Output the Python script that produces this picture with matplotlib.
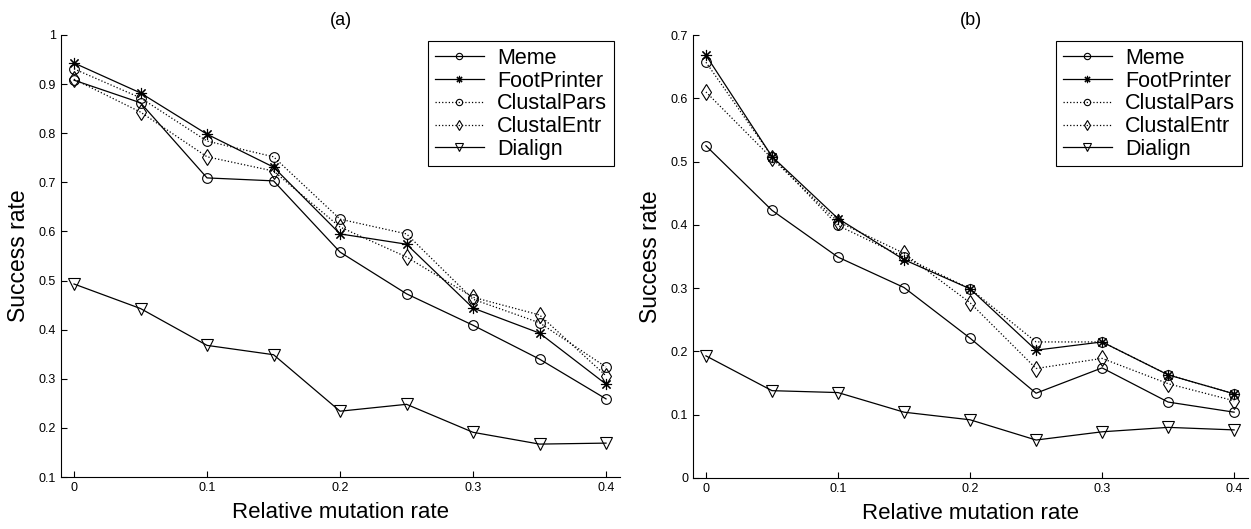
import matplotlib.pyplot as plt
import numpy as np

plt.rcParams['font.family'] = ['Liberation Sans', 'DejaVu Sans']

rate = [0, 0.05, 0.1, 0.15, 0.2, 0.25, 0.3, 0.35, 0.4]
names = ['Meme', 'FootPrinter', 'ClustalPars', 'ClustalEntr', 'Dialign']

# panel (a)
meme_a = [0.908, 0.862, 0.709, 0.703, 0.558, 0.473, 0.409, 0.340, 0.259]
foot_a = [0.943, 0.882, 0.798, 0.731, 0.595, 0.574, 0.444, 0.393, 0.289]
pars_a = [0.931, 0.872, 0.784, 0.752, 0.625, 0.595, 0.462, 0.414, 0.324]
entr_a = [0.910, 0.843, 0.752, 0.723, 0.609, 0.548, 0.466, 0.430, 0.306]
dial_a = [0.493, 0.443, 0.368, 0.349, 0.234, 0.248, 0.191, 0.167, 0.169]

# panel (b)
meme_b = [0.525, 0.423, 0.349, 0.301, 0.221, 0.134, 0.174, 0.120, 0.104]
foot_b = [0.668, 0.508, 0.410, 0.345, 0.299, 0.202, 0.215, 0.163, 0.133]
pars_b = [0.657, 0.508, 0.399, 0.349, 0.299, 0.215, 0.215, 0.163, 0.133]
entr_b = [0.610, 0.505, 0.405, 0.355, 0.277, 0.173, 0.189, 0.149, 0.122]
dial_b = [0.193, 0.138, 0.135, 0.104, 0.092, 0.060, 0.073, 0.080, 0.076]

styles = [
    dict(ls='-', marker='o', ms=7),
    dict(ls='-', marker=(8, 2, 0), ms=8),
    dict(ls=':', marker='o', ms=7),
    dict(ls=':', marker='d', ms=8),
    dict(ls='-', marker='v', ms=8),
]

fig = plt.figure(figsize=(12.51, 5.29), dpi=100)
ax1 = fig.add_axes([61 / 1251, 1 - 477 / 529, 559 / 1251, 442 / 529])
ax2 = fig.add_axes([693 / 1251, 1 - 478 / 529, 555 / 1251, 443 / 529])


def draw(ax, series, ylim, yticks, title):
    for name, y, st in zip(names, series, styles):
        ax.plot(rate, y, color='black', lw=0.9, ls=st['ls'], marker=st['marker'],
                ms=st['ms'], mfc='none', mec='black', mew=0.8, label=name)
    ax.set_xlim(-0.0098, 0.4105)
    ax.set_ylim(*ylim)
    ax.set_xticks([0, 0.1, 0.2, 0.3, 0.4])
    ax.set_xticklabels(['0', '0.1', '0.2', '0.3', '0.4'])
    ax.set_yticks(yticks)
    ax.set_yticklabels(['%g' % t for t in yticks])
    ax.tick_params(direction='in', labelsize=9, length=4, width=0.8)
    for s in ['top', 'right']:
        ax.spines[s].set_visible(False)
    ax.set_xlabel('Relative mutation rate', fontsize=16, labelpad=6)
    ax.set_ylabel('Success rate', fontsize=16.5, labelpad=6)
    ax.set_title(title, fontsize=13, pad=7)
    leg = ax.legend(loc='upper right', fontsize=15.5, handlelength=2.3,
                    handletextpad=0.6, borderaxespad=0.3, fancybox=False,
                    edgecolor='black', framealpha=1, labelspacing=0.08,
                    markerscale=0.65, borderpad=0.3)
    leg.get_frame().set_linewidth(0.8)


draw(ax1, [meme_a, foot_a, pars_a, entr_a, dial_a], (0.1, 1.0),
     np.round(np.arange(0.1, 1.01, 0.1), 1), '(a)')
draw(ax2, [meme_b, foot_b, pars_b, entr_b, dial_b], (0.0, 0.7),
     np.round(np.arange(0.0, 0.71, 0.1), 1), '(b)')

plt.savefig('out.png', dpi=100)
